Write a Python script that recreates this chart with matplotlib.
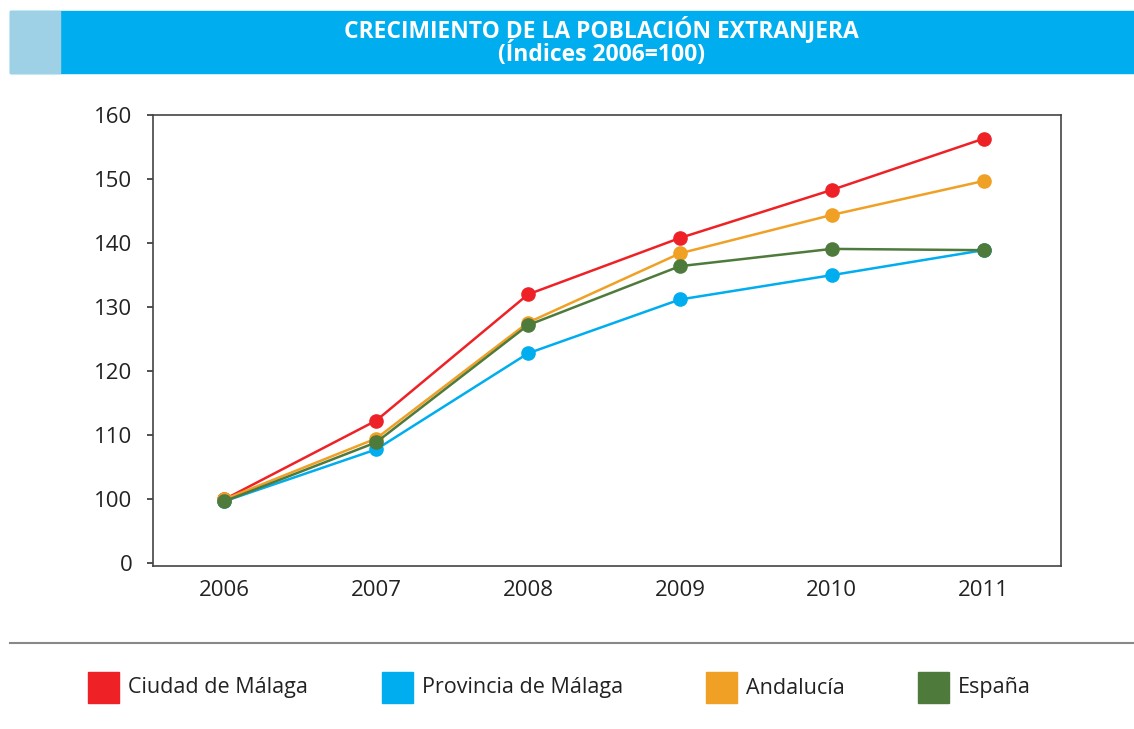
import matplotlib
matplotlib.use("Agg")
import matplotlib.pyplot as plt
from matplotlib.patches import Rectangle
from matplotlib.lines import Line2D

plt.rcParams['font.family'] = ['Open Sans', 'DejaVu Sans']

years = [2006, 2007, 2008, 2009, 2010, 2011]
ciudad = [100.0, 112.3, 132.0, 140.8, 148.3, 156.3]
provincia = [99.7, 107.8, 122.8, 131.2, 135.0, 138.9]
andalucia = [100.0, 109.5, 127.6, 138.4, 144.4, 149.7]
espana = [99.7, 108.9, 127.2, 136.4, 139.1, 138.9]

series = [
    ("Ciudad de Málaga", ciudad, "#ee2226"),
    ("Provincia de Málaga", provincia, "#00adee"),
    ("Andalucía", andalucia, "#f0a025"),
    ("España", espana, "#4e7a3c"),
]

# eje cortado: la marca inferior (90) se rotula como "0"
yticks = [90, 100, 110, 120, 130, 140, 150, 160]
ytick_labels = ["0", "100", "110", "120", "130", "140", "150", "160"]

fig = plt.figure(figsize=(11.34, 7.29), dpi=100)

# cabecera
fig.patches.append(Rectangle((10/1134, 1-73/729), 1-10/1134, 62/729,
                             transform=fig.transFigure, color="#00aeef", zorder=0))
fig.patches.append(Rectangle((10/1134, 1-73/729), 50/1134, 62/729,
                             transform=fig.transFigure, color="#9fd1e6", zorder=1))
fig.text(601/1134, 1-30/729, "CRECIMIENTO DE LA POBLACIÓN EXTRANJERA",
         ha="center", va="center", color="white", fontsize=16.5, fontweight="bold")
fig.text(601/1134, 1-55/729, "(Índices 2006=100)",
         ha="center", va="center", color="white", fontsize=16.5, fontweight="bold")

ax = fig.add_axes([153/1134, 1-566/729, 908/1134, 451/729])
for name, vals, col in series:
    ax.plot(years, vals, color=col, lw=1.8, marker="o", ms=9.5, label=name)

ax.set_xlim(2005.53, 2011.51)
ax.set_ylim(89.6, 160)
ax.set_yticks(yticks)
ax.set_yticklabels(ytick_labels)
ax.set_xticks(years)
ax.tick_params(axis="x", length=0, pad=10, labelsize=16, colors="#222222")
ax.tick_params(axis="y", length=4, width=1.2, pad=11, labelsize=16, colors="#222222")
ax.tick_params(axis="y", color="#333333")
for sp in ax.spines.values():
    sp.set_color("#444444")
    sp.set_linewidth(1.2)

# separador
fig.add_artist(Line2D([10/1134, 1], [1-643/729, 1-643/729], transform=fig.transFigure,
                      color="#888888", lw=1.5))

# leyenda
leg_x = [88, 382, 706, 918]
for (name, vals, col), x0 in zip(series, leg_x):
    fig.patches.append(Rectangle((x0/1134, 1-703/729), 31/1134, 31/729,
                                 transform=fig.transFigure, color=col))
    fig.text((x0+40)/1134, 1-688/729, name, ha="left", va="center",
             fontsize=15.5, color="#222222")

fig.savefig("out.png", dpi=100)
